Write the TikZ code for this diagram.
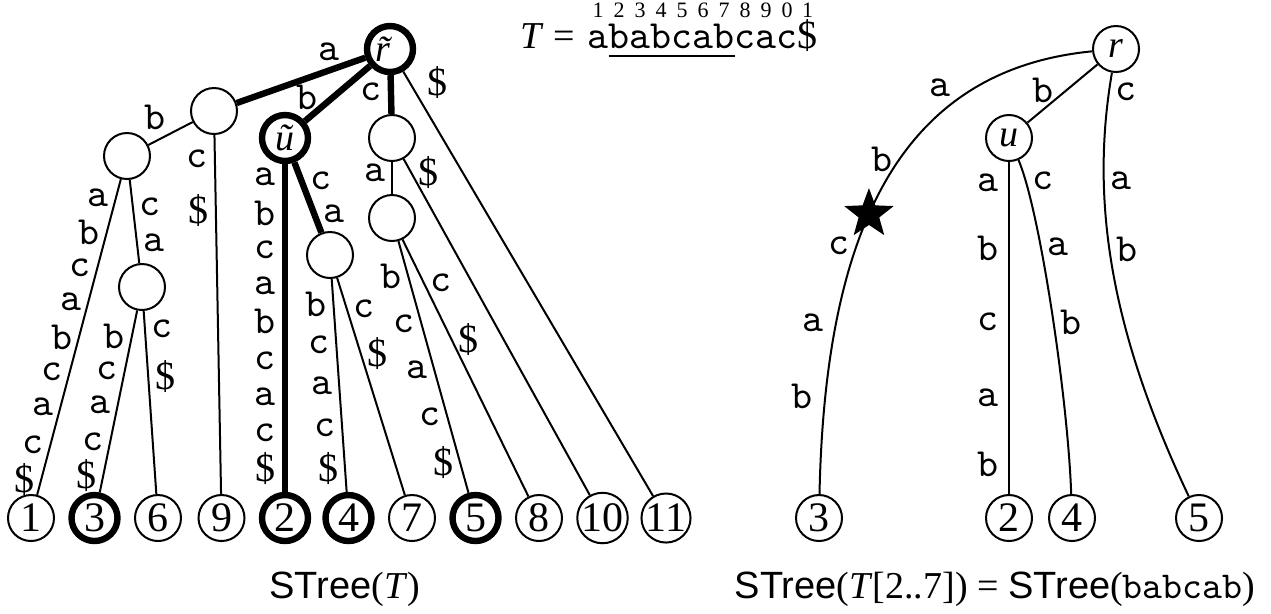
\documentclass[tikz,border=0pt]{standalone}
\usepackage{fontspec}
\setmainfont{Liberation Serif}
\setsansfont{Liberation Sans}
\usetikzlibrary{positioning,shapes.geometric}
\newcommand{\dol}{\textrm{\$}}

\begin{document}
\begin{tikzpicture}[x=0.25pt, y=-0.25pt, line width=0.5pt, font=\fontsize{9.5}{11}\selectfont]

  % Define custom styles for vertices and letters (only!)
  \tikzset{
    vtx/.style={circle, draw, line width=0.5pt, minimum size=11.5pt, inner sep=0pt},
    leaf/.style={vtx, font=\fontsize{10.5}{12}\selectfont},
    hit/.style={line width=1.6pt},
    lab/.style={font=\ttfamily, inner xsep=1.5pt, inner ysep=0.5pt},
    tch/.style={font=\ttfamily, inner sep=0pt, outer sep=0pt, text height=7pt, text depth=0pt},
    num/.style={font=\fontsize{5.5}{6}\selectfont, inner sep=0pt, label distance=0.4pt},
    impl/.style={star, star points=5, star point ratio=2.4, fill, minimum size=13pt, inner sep=0pt}
  }

  \useasboundingbox (0,0) rectangle (1271,613);

  % The text T with positions above
  \node[tch, anchor=base, label={[num]above:1}] (ch1) at (598,48) {a};
  \node[tch, base right=0pt of ch1, label={[num]above:2}] (ch2) {b};
  \node[tch, base right=0pt of ch2, label={[num]above:3}] (ch3) {a};
  \node[tch, base right=0pt of ch3, label={[num]above:4}] (ch4) {b};
  \node[tch, base right=0pt of ch4, label={[num]above:5}] (ch5) {c};
  \node[tch, base right=0pt of ch5, label={[num]above:6}] (ch6) {a};
  \node[tch, base right=0pt of ch6, label={[num]above:7}] (ch7) {b};
  \node[tch, base right=0pt of ch7, label={[num]above:8}] (ch8) {c};
  \node[tch, base right=0pt of ch8, label={[num]above:9}] (ch9) {a};
  \node[tch, base right=0pt of ch9, label={[num]above:0}] (ch10) {c};
  \node[tch, base right=0pt of ch10, label={[num]above:1}] (ch11) {\dol};
  \node[inner sep=0pt, base left=3pt of ch1] (teq) {\textit{T} =};
  \draw[line width=0.6pt] ([yshift=-2pt]ch2.base west) -- ([yshift=-2pt]ch7.base east);

  % Left tree: inner nodes
  \node[vtx, hit] (rt) at (390,49) {\textit{\~r}};
  \node[vtx] (A) at (214,111) {};
  \node[vtx] (AB) at (127,156) {};
  \node[vtx] (ABC) at (142,287) {};
  \node[vtx, hit] (ut) at (285,138) {\textit{\~u}};
  \node[vtx] (UC) at (330,255) {};
  \node[vtx] (C) at (392,138) {};
  \node[vtx] (CA) at (392,218) {};

  % Left tree: leaves
  \node[leaf] (l1) at (31,518) {1};
  \node[leaf, hit] (l3) at (94.5,518) {3};
  \node[leaf] (l6) at (158,518) {6};
  \node[leaf] (l9) at (221.5,518) {9};
  \node[leaf, hit] (l2) at (285,518) {2};
  \node[leaf, hit] (l4) at (348.5,518) {4};
  \node[leaf] (l7) at (412,518) {7};
  \node[leaf, hit] (l5) at (475.5,518) {5};
  \node[leaf] (l8) at (539,518) {8};
  \node[leaf] (l10) at (602.5,518) {10};
  \node[leaf] (l11) at (666,518) {11};

  % Left tree: edges with their letters
  \draw[hit] (rt) -- (A) node[lab, pos=.28, above=1pt] {a};
  \draw (A) -- (AB) node[lab, pos=.45, above left] {b};
  \draw (AB) -- (l1) node[lab, pos=.06, left] {a} node[lab, pos=.17, left] {b}
    node[lab, pos=.28, left] {c} node[lab, pos=.39, left] {a} node[lab, pos=.50, left] {b}
    node[lab, pos=.61, left] {c} node[lab, pos=.72, left] {a} node[lab, pos=.84, left] {c}
    node[lab, pos=.95, left] {\dol};
  \draw (AB) -- (ABC) node[lab, pos=.32, right] {c} node[lab, pos=.76, right] {a};
  \draw (ABC) -- (l3) node[lab, pos=.14, left] {b} node[lab, pos=.33, left] {c}
    node[lab, pos=.52, left] {a} node[lab, pos=.72, left] {c} node[lab, pos=.91, left] {\dol};
  \draw (ABC) -- (l6) node[lab, pos=.10, right] {c} node[lab, pos=.36, right] {\dol};
  \draw (A) -- (l9) node[lab, pos=.066, left] {c} node[lab, pos=.21, left] {\dol};
  \draw[hit] (rt) -- (ut) node[lab, pos=.97, above=1pt] {b};
  \draw[hit] (ut) -- (l2) node[lab, pos=.04, left] {a} node[lab, pos=.15, left] {b}
    node[lab, pos=.26, left] {c} node[lab, pos=.37, left] {a} node[lab, pos=.48, left] {b}
    node[lab, pos=.60, left] {c} node[lab, pos=.71, left] {a} node[lab, pos=.82, left] {c}
    node[lab, pos=.93, left] {\dol};
  \draw[hit] (ut) -- (UC) node[lab, pos=.26, right] {c} node[lab, pos=.73, right] {a};
  \draw (UC) -- (l4) node[lab, pos=.12, left] {b} node[lab, pos=.31, left] {c}
    node[lab, pos=.50, left] {a} node[lab, pos=.70, left] {c} node[lab, pos=.89, left] {\dol};
  \draw (UC) -- (l7) node[lab, pos=.14, right] {c} node[lab, pos=.35, right] {\dol};
  \draw[hit] (rt) -- (C) node[lab, pos=.42, left] {c};
  \draw (C) -- (CA) node[lab, pos=.35, left] {a};
  \draw (CA) -- (l5) node[lab, pos=.14, left] {b} node[lab, pos=.33, left] {c}
    node[lab, pos=.51, left] {a} node[lab, pos=.70, left] {c} node[lab, pos=.88, left] {\dol};
  \draw (CA) -- (l8) node[lab, pos=.17, right] {c} node[lab, pos=.39, right] {\dol};
  \draw (C) -- (l10) node[lab, pos=.04, right] {\dol};
  \draw (rt) -- (l11) node[lab, pos=.07, above right] {\dol};

  % Right tree: nodes
  \node[vtx] (r) at (1116,49) {\textit{r}};
  \node[vtx] (u) at (1009,138) {\textit{u}};
  \node[leaf] (s3) at (819,518) {3};
  \node[leaf] (s2) at (1009,518) {2};
  \node[leaf] (s4) at (1072,518) {4};
  \node[leaf] (s5) at (1199,518) {5};

  % Right tree: edges with their letters
  \draw (r) .. controls (900,70) and (825,230) .. (s3)
    node[lab, pos=.28, above left] {a} node[lab, pos=.45, left] {b}
    node[impl, pos=.57] (imp) {}
    node[lab, pos=.63, left] {c} node[lab, pos=.76, left=1.5pt] {a}
    node[lab, pos=.87, left=1.5pt] {b};
  \draw (r) -- (u) node[lab, pos=.78, above=1pt] {b};
  \draw (u) -- (s2) node[lab, pos=.063, left=1pt] {a} node[lab, pos=.26, left=1pt] {b}
    node[lab, pos=.48, left=1pt] {c} node[lab, pos=.71, left=1pt] {a}
    node[lab, pos=.91, left=1pt] {b};
  \draw (u) .. controls (1040,210) and (1068,400) .. (s4)
    node[lab, pos=.11, right] {c} node[lab, pos=.33, right] {a} node[lab, pos=.53, right] {b};
  \draw (r) .. controls (1090,200) and (1110,330) .. (s5)
    node[lab, pos=.05, right] {c} node[lab, pos=.28, right] {a} node[lab, pos=.45, right] {b};

  % Captions
  \node (capL) at (345,589) {\textsf{STree}(\textit{T})};
  \node (capR) at (995,589) {\textsf{STree}(\textit{T}[2..7]) = \textsf{STree}(\texttt{babcab})};

\end{tikzpicture}
\end{document}
